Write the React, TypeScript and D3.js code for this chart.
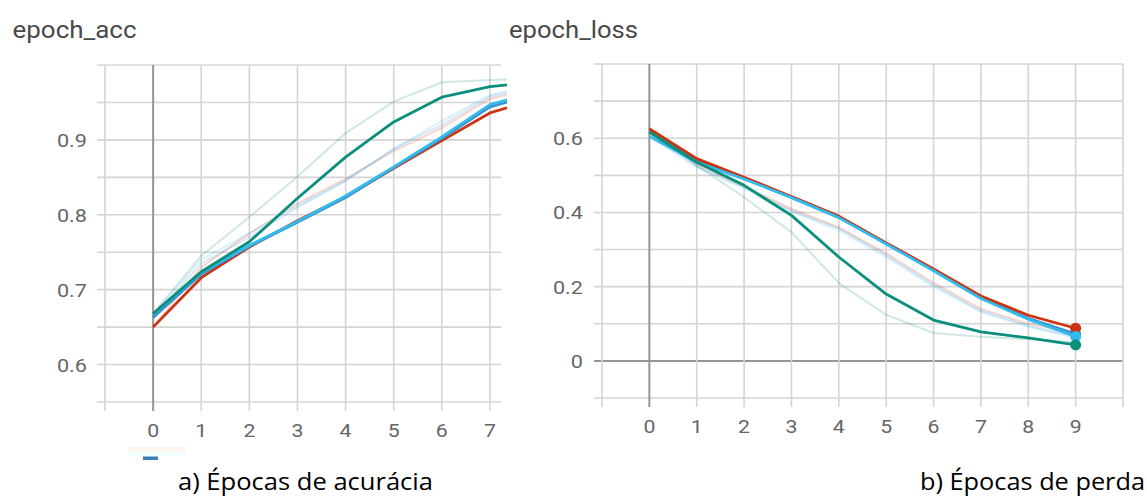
import React from "react";
import * as d3 from "d3";

// Epoch indices shared by both runs
const EPOCHS = [0, 1, 2, 3, 4, 5, 6, 7, 8, 9];

// epoch_acc — smoothed curves
const ACC_RED = [0.650, 0.716, 0.757, 0.792, 0.824, 0.862, 0.899, 0.936, 0.955, 0.968];
const ACC_BLUE = [0.663, 0.721, 0.758, 0.790, 0.823, 0.863, 0.902, 0.944, 0.962, 0.972];
const ACC_CYAN = [0.667, 0.723, 0.759, 0.791, 0.825, 0.864, 0.904, 0.947, 0.965, 0.975];
const ACC_TEAL = [0.668, 0.724, 0.764, 0.822, 0.877, 0.924, 0.957, 0.971, 0.978, 0.982];
// epoch_acc — raw curves
const ACC_RED_RAW = [0.650, 0.730, 0.775, 0.815, 0.848, 0.885, 0.916, 0.955, 0.970, 0.978];
const ACC_BLUE_RAW = [0.663, 0.735, 0.770, 0.810, 0.845, 0.888, 0.920, 0.958, 0.972, 0.980];
const ACC_CYAN_RAW = [0.667, 0.740, 0.775, 0.812, 0.846, 0.888, 0.925, 0.960, 0.974, 0.980];
const ACC_TEAL_RAW = [0.668, 0.745, 0.797, 0.851, 0.909, 0.951, 0.977, 0.980, 0.982, 0.984];

// epoch_loss — smoothed curves
const LOSS_RED = [0.626, 0.545, 0.495, 0.443, 0.390, 0.318, 0.248, 0.175, 0.123, 0.088];
const LOSS_BLUE = [0.620, 0.540, 0.492, 0.441, 0.387, 0.317, 0.245, 0.170, 0.115, 0.072];
const LOSS_CYAN = [0.605, 0.535, 0.490, 0.440, 0.386, 0.315, 0.243, 0.168, 0.112, 0.066];
const LOSS_TEAL = [0.616, 0.535, 0.473, 0.392, 0.280, 0.180, 0.110, 0.078, 0.062, 0.043];
// epoch_loss — raw curves
const LOSS_RED_RAW = [0.626, 0.530, 0.470, 0.410, 0.360, 0.290, 0.210, 0.140, 0.100, 0.075];
const LOSS_BLUE_RAW = [0.620, 0.525, 0.468, 0.405, 0.357, 0.285, 0.205, 0.135, 0.095, 0.065];
const LOSS_CYAN_RAW = [0.605, 0.522, 0.465, 0.402, 0.352, 0.280, 0.200, 0.132, 0.092, 0.062];
const LOSS_TEAL_RAW = [0.616, 0.527, 0.441, 0.347, 0.210, 0.124, 0.075, 0.065, 0.058, 0.050];

// Axis ticks and grid positions
const ACC_Y_TICKS = [0.6, 0.7, 0.8, 0.9];
const ACC_Y_GRID = [0.55, 0.6, 0.65, 0.7, 0.75, 0.8, 0.85, 0.9, 0.95, 1.0];
const ACC_X_TICKS = [0, 1, 2, 3, 4, 5, 6, 7];
const ACC_X_GRID = [-1, 0, 1, 2, 3, 4, 5, 6, 7];
const LOSS_Y_TICKS = [0, 0.2, 0.4, 0.6];
const LOSS_Y_GRID = [-0.1, 0, 0.1, 0.2, 0.3, 0.4, 0.5, 0.6, 0.7, 0.8];
const LOSS_X_TICKS = [0, 1, 2, 3, 4, 5, 6, 7, 8, 9];
const LOSS_X_GRID = [-1, 0, 1, 2, 3, 4, 5, 6, 7, 8, 9, 10];

const RED = "#cc3311";
const BLUE = "#3f8cc6";
const CYAN = "#33bbee";
const TEAL = "#0a8f7c";

type Series = { color: string; values: number[]; raw: number[] };

type Panel = {
  id: string;
  title: string;
  titleX: number;
  titleWidth: number;
  x0: number;
  x1: number;
  y0: number;
  y1: number;
  xDomain: [number, number];
  yDomain: [number, number];
  xTicks: number[];
  xGrid: number[];
  yTicks: number[];
  yGrid: number[];
  zeroY: boolean;
  labelRight: number;
  xLabelBaseline: number;
  series: Series[];
  endDots: boolean;
  caption: string;
  captionX: number;
  captionWidth: number;
};

const PANELS: Panel[] = [
  {
    id: "acc",
    title: "epoch_acc",
    titleX: 12.5,
    titleWidth: 124,
    x0: 105,
    x1: 501,
    y0: 65,
    y1: 402,
    xDomain: [-1, 7.23],
    yDomain: [0.55, 1.0],
    xTicks: ACC_X_TICKS,
    xGrid: ACC_X_GRID,
    yTicks: ACC_Y_TICKS,
    yGrid: ACC_Y_GRID,
    zeroY: false,
    labelRight: 87,
    xLabelBaseline: 437,
    series: [
      { color: RED, values: ACC_RED, raw: ACC_RED_RAW },
      { color: BLUE, values: ACC_BLUE, raw: ACC_BLUE_RAW },
      { color: CYAN, values: ACC_CYAN, raw: ACC_CYAN_RAW },
      { color: TEAL, values: ACC_TEAL, raw: ACC_TEAL_RAW },
    ],
    endDots: false,
    caption: "a) Épocas de acurácia",
    captionX: 178,
    captionWidth: 255,
  },
  {
    id: "loss",
    title: "epoch_loss",
    titleX: 509,
    titleWidth: 129,
    x0: 602,
    x1: 1123,
    y0: 64,
    y1: 398,
    xDomain: [-1, 10],
    yDomain: [-0.1, 0.8],
    xTicks: LOSS_X_TICKS,
    xGrid: LOSS_X_GRID,
    yTicks: LOSS_Y_TICKS,
    yGrid: LOSS_Y_GRID,
    zeroY: true,
    labelRight: 583,
    xLabelBaseline: 433,
    series: [
      { color: BLUE, values: LOSS_BLUE, raw: LOSS_BLUE_RAW },
      { color: RED, values: LOSS_RED, raw: LOSS_RED_RAW },
      { color: CYAN, values: LOSS_CYAN, raw: LOSS_CYAN_RAW },
      { color: TEAL, values: LOSS_TEAL, raw: LOSS_TEAL_RAW },
    ],
    endDots: true,
    caption: "b) Épocas de perda",
    captionX: 920,
    captionWidth: 225,
  },
];

const GRID = "#d4d4d4";
const AXIS = "#959595";
const TICK_TEXT = "#666";
const FONT = "Roboto, 'Liberation Sans', sans-serif";

function ChartPanel({ p }: { p: Panel }) {
  const x = d3.scaleLinear().domain(p.xDomain).range([p.x0, p.x1]);
  const y = d3.scaleLinear().domain(p.yDomain).range([p.y1, p.y0]);
  const line = d3
    .line<[number, number]>()
    .x((d) => x(d[0]))
    .y((d) => y(d[1]));
  const pts = (vals: number[]) => EPOCHS.map((e, i) => [e, vals[i]] as [number, number]);
  const clipId = `clip-${p.id}`;
  const fmt = (v: number) => (v === 0 ? "0" : d3.format(".1f")(v));

  return (
    <g>
      <defs>
        <clipPath id={clipId}>
          <rect x={p.x0} y={p.y0 - 6} width={p.x1 - p.x0 + 6} height={p.y1 - p.y0 + 6} />
        </clipPath>
      </defs>

      <text
        x={p.titleX}
        y={38}
        fontFamily={FONT}
        fontSize={23}
        fill="#4a4a4a"
        textLength={p.titleWidth}
        lengthAdjust="spacingAndGlyphs"
      >
        {p.title}
      </text>

      {/* horizontal grid */}
      {p.yGrid.map((v) => (
        <line
          key={`h${v}`}
          x1={p.x0 - 8}
          x2={p.x1}
          y1={y(v)}
          y2={y(v)}
          stroke={p.zeroY && Math.abs(v) < 1e-9 ? AXIS : GRID}
          strokeWidth={p.zeroY && Math.abs(v) < 1e-9 ? 2 : 1.6}
        />
      ))}
      {/* vertical grid */}
      {p.xGrid.map((v) => (
        <line
          key={`v${v}`}
          x1={x(v)}
          x2={x(v)}
          y1={p.y0}
          y2={p.y1 + 9}
          stroke={v === 0 ? AXIS : GRID}
          strokeWidth={v === 0 ? 2 : 1.6}
        />
      ))}

      {/* y tick labels */}
      {p.yTicks.map((v) => (
        <text
          key={`yl${v}`}
          transform={`translate(${p.labelRight},${y(v) + 7}) scale(1.14,1)`}
          textAnchor="end"
          fontFamily={FONT}
          fontSize={19}
          fill={TICK_TEXT}
        >
          {fmt(v)}
        </text>
      ))}
      {/* x tick labels */}
      {p.xTicks.map((v) => (
        <text
          key={`xl${v}`}
          transform={`translate(${x(v)},${p.xLabelBaseline}) scale(1.12,1)`}
          textAnchor="middle"
          fontFamily={FONT}
          fontSize={19}
          fill={TICK_TEXT}
        >
          {v}
        </text>
      ))}

      <g clipPath={`url(#${clipId})`}>
        {p.series.map((s, i) => (
          <path
            key={`raw${i}`}
            d={line(pts(s.raw)) || ""}
            fill="none"
            stroke={s.color}
            strokeOpacity={0.2}
            strokeWidth={2}
          />
        ))}
        {p.series.map((s, i) => (
          <path
            key={`s${i}`}
            d={line(pts(s.values)) || ""}
            fill="none"
            stroke={s.color}
            strokeWidth={2.8}
            strokeLinejoin="round"
          />
        ))}
        {p.endDots &&
          p.series.map((s, i) => (
            <circle
              key={`dot${i}`}
              cx={x(EPOCHS[EPOCHS.length - 1])}
              cy={y(s.values[s.values.length - 1])}
              r={5.5}
              fill={s.color}
            />
          ))}
      </g>

      <text
        x={p.captionX}
        y={490}
        fontFamily="'Open Sans', 'Noto Sans', sans-serif"
        fontSize={23}
        fill="#000"
        textLength={p.captionWidth}
        lengthAdjust="spacingAndGlyphs"
      >
        {p.caption}
      </text>
    </g>
  );
}

export default function App() {
  return (
    <svg
      width={1147}
      height={498}
      style={{ position: "absolute", left: 0, top: 0, background: "#fff" }}
    >
      <rect x={0} y={0} width={1147} height={498} fill="#fff" />
      {PANELS.map((p) => (
        <ChartPanel key={p.id} p={p} />
      ))}
      {/* remnant of the run legend beneath the first panel */}
      <rect x={128} y={447} width={58} height={5} fill="#fff6ee" />
      <rect x={128} y={452} width={58} height={4} fill="#f1fcff" />
      <rect x={143} y={456.5} width={15} height={3.5} fill="#3b7fb8" />
    </svg>
  );
}
